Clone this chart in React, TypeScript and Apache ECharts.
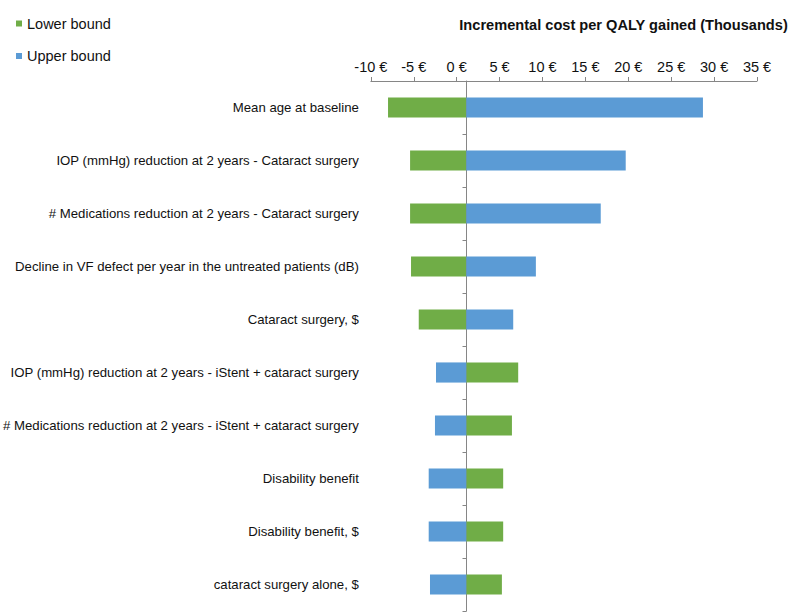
import React, { useEffect, useRef } from "react";
import * as echarts from "echarts";

const categories = [
  "Mean age at baseline",
  "IOP (mmHg) reduction at 2 years - Cataract surgery",
  "# Medications reduction at 2 years - Cataract surgery",
  "Decline in VF defect per year in the untreated patients (dB)",
  "Cataract surgery, $",
  "IOP (mmHg) reduction at 2 years - iStent + cataract surgery",
  "# Medications reduction at 2 years - iStent + cataract surgery",
  "Disability benefit",
  "Disability benefit, $",
  "cataract surgery alone, $",
];
const baseValue = 1.12;
const lowerBound = [-8.0, -5.43, -5.43, -5.32, -4.42, 7.17, 6.44, 5.42, 5.42, 5.27];
const upperBound = [28.7, 19.7, 16.79, 9.23, 6.59, -2.41, -2.53, -3.26, -3.26, -3.11];
const xTicks = { min: -10, max: 35, interval: 5 };

const FONT = "'Liberation Sans', Arial, sans-serif";
const GREEN = "#70AD47";
const BLUE = "#5B9BD5";
const AXIS = "#868686";

export default function App() {
  const ref = useRef<HTMLDivElement>(null);
  useEffect(() => {
    if (!ref.current) return;
    const chart = echarts.init(ref.current, undefined, { renderer: "svg" });
    const gridLeft = 370;
    const gridRight = 38;
    const gridWidth = 795 - gridLeft - gridRight;
    const axisOffset = -((baseValue - xTicks.min) / (xTicks.max - xTicks.min)) * gridWidth;

    const makeRender = (color: string) => (params: any, api: any) => {
      const v = api.value(0);
      const cat = api.value(1);
      const p0 = api.coord([baseValue, cat]);
      const p1 = api.coord([v, cat]);
      const h = api.size([0, 1])[1] * 0.38;
      return {
        type: "rect",
        shape: {
          x: Math.min(p0[0], p1[0]),
          y: p0[1] - h / 2,
          width: Math.abs(p1[0] - p0[0]),
          height: h,
        },
        style: { fill: color },
      };
    };

    chart.setOption({
      animation: false,
      textStyle: { fontFamily: FONT },
      title: {
        text: "Incremental cost per QALY gained (Thousands)",
        right: 2,
        top: 12,
        textStyle: { fontFamily: FONT, fontWeight: "bold", fontSize: 14.6, color: "#111" },
      },
      legend: {
        left: 11,
        top: 11,
        orient: "vertical",
        itemWidth: 6,
        itemHeight: 6,
        itemGap: 17.5,
        icon: "rect",
        textStyle: { fontFamily: FONT, fontSize: 14.5, color: "#111" },
        data: ["Lower bound", "Upper bound"],
      },
      grid: { left: gridLeft, right: gridRight, top: 81, height: 530 },
      xAxis: {
        type: "value",
        position: "top",
        min: xTicks.min,
        max: xTicks.max,
        interval: xTicks.interval,
        splitLine: { show: false },
        axisLine: { show: true, lineStyle: { color: AXIS } },
        axisTick: { show: true, length: 4, lineStyle: { color: AXIS } },
        axisLabel: {
          formatter: (v: number) => `${v} €`,
          fontFamily: FONT,
          fontSize: 14.5,
          color: "#111",
          margin: 7,
        },
      },
      yAxis: [
        {
          type: "category",
          inverse: true,
          data: categories,
          axisLine: { show: false },
          axisTick: { show: false },
          axisLabel: { fontFamily: FONT, fontSize: 13.2, color: "#111", margin: 12 },
        },
        {
          type: "category",
          inverse: true,
          position: "left",
          offset: axisOffset,
          data: categories,
          axisLine: { show: true, onZero: false, lineStyle: { color: AXIS } },
          axisTick: { show: true, length: 4, lineStyle: { color: AXIS } },
          axisLabel: { show: false },
        },
      ],
      series: [
        {
          name: "Lower bound",
          type: "custom",
          yAxisIndex: 0,
          itemStyle: { color: GREEN },
          encode: { x: 0, y: 1 },
          data: lowerBound.map((v, i) => [v, i]),
          renderItem: makeRender(GREEN),
        },
        {
          name: "Upper bound",
          type: "custom",
          yAxisIndex: 0,
          itemStyle: { color: BLUE },
          encode: { x: 0, y: 1 },
          data: upperBound.map((v, i) => [v, i]),
          renderItem: makeRender(BLUE),
        },
      ],
    });
    return () => chart.dispose();
  }, []);
  return <div ref={ref} style={{ width: 795, height: 615, position: "absolute", left: 0, top: 0 }} />;
}
